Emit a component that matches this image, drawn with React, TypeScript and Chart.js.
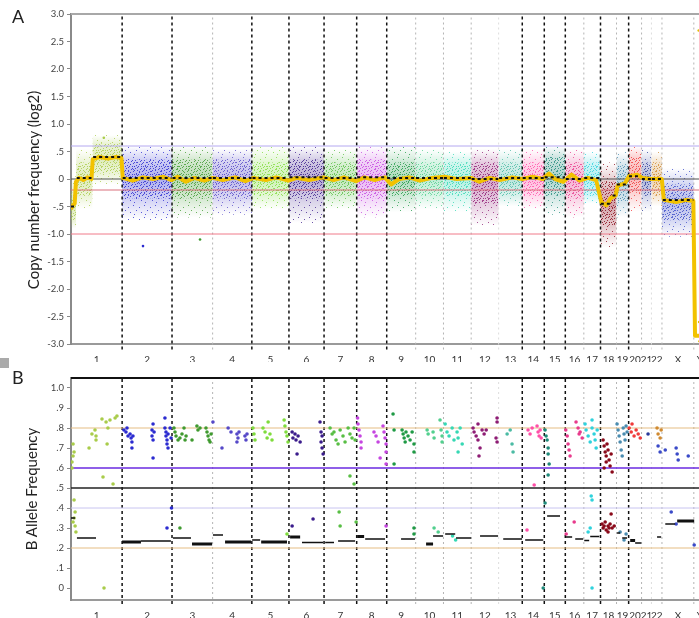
import React, { useEffect, useRef } from "react";
import { Chart, registerables } from "chart.js";
Chart.register(...registerables);

const FONT = "Lato, 'Open Sans', sans-serif";

const CHROMS = ["1","2","3","4","5","6","7","8","9","10","11","12","13","14","15","16","17","18","19","20","21","22","X","Y"];
const CHROM_LEN = [249.25,243.2,198.0,191.15,180.9,171.1,159.1,146.4,141.2,135.5,135.0,133.85,115.2,107.35,102.5,90.35,81.2,78.1,59.1,63.0,48.1,51.3,155.3,59.4];
// style of the boundary after each chromosome (1/2 ... X/Y)
const BOUNDARY_STYLE = ["dark","dark","grey","dark","dark","dark","dark","dark","grey","grey","grey","faint","dark","dark","dark","grey","dark","grey","dark","grey","faint","grey","grey"];
const CHROM_COLOR = ["#a9cc4a","#2b2bd0","#3f9a2f","#5548c8","#7fdc3c","#3b1c8c","#58be44","#c545e0","#1f9a45","#52cf8e","#36d8b4","#8e1c74","#4bbba4","#ff4fa8","#1f8a7a","#e83a8c","#2fd2dc","#8a0a1a","#4a8cb0","#f03a3a","#2a3a9a","#d08a30","#3a4ac8","#e0c000"];

const CN_TICKS = [3,2.5,2,1.5,1,0.5,0,-0.5,-1,-1.5,-2,-2.5,-3];
const BAF_TICKS = [1,0.9,0.8,0.7,0.6,0.5,0.4,0.3,0.2,0.1,0];

// [value, colour, width]
const CN_REF_LINES: [number, string, number][] = [[3,"#a8a8a8",2],[0.6,"#b4a8f0",1],[0,"#505050",1],[-0.2,"#d9707c",1],[-1.0,"#f07a8a",1]];
const BAF_REF_LINES: [number, string, number][] = [[1.05,"#111",2],[0.8,"#e6bd84",1.2],[0.6,"#6a2ae0",1.6],[0.5,"#222",1.6],[0.4,"#c8c4f0",1],[0.2,"#e6bd84",1.2]];

// copy-number clouds: [chrom, start Mb, end Mb, coreLo, coreHi, outerLo, outerHi]
const CN_CLOUDS: [number, number, number, number, number, number, number][] = [
  [0,0,25,-0.75,-0.25,-0.9,0.05],
  [0,25,105,-0.3,0.3,-0.55,0.55],
  [0,105,249,0.1,0.65,-0.1,0.8],
  [1,249,492,-0.35,0.35,-0.75,0.6],
  [2,492,690,-0.35,0.35,-0.7,0.6],
  [3,690,882,-0.35,0.35,-0.65,0.55],
  [4,882,1062,-0.3,0.3,-0.55,0.6],
  [5,1062,1234,-0.35,0.35,-0.8,0.6],
  [6,1234,1393,-0.3,0.3,-0.55,0.55],
  [7,1393,1539,-0.35,0.35,-0.7,0.6],
  [8,1539,1680,-0.3,0.3,-0.6,0.6],
  [9,1680,1816,-0.3,0.3,-0.55,0.55],
  [10,1816,1951,-0.3,0.3,-0.6,0.5],
  [11,1951,2085,-0.45,0.3,-0.85,0.55],
  [12,2085,2200,-0.3,0.3,-0.5,0.55],
  [13,2200,2307,-0.3,0.3,-0.55,0.55],
  [14,2307,2410,-0.3,0.4,-0.65,0.6],
  [15,2410,2500,-0.35,0.3,-0.7,0.55],
  [16,2500,2581,-0.3,0.3,-0.45,0.5],
  [17,2581,2659,-0.85,-0.05,-1.25,0.3],
  [18,2659,2718,-0.4,0.25,-0.7,0.5],
  [19,2718,2781,-0.25,0.4,-0.6,0.6],
  [20,2781,2830,-0.3,0.3,-0.6,0.55],
  [21,2830,2881,-0.3,0.3,-0.5,0.5],
  [22,2881,3036,-0.75,-0.1,-1.05,0.2],
];

// smoothed copy-number track [Mb, log2]
const CN_TRACK: [number, number][] = [
  [0,-0.55],[8,-0.48],[18,-0.45],[24,-0.05],[40,0.02],[60,-0.02],[80,0.03],[100,0.0],[106,0.36],[140,0.4],[180,0.37],[220,0.4],[246,0.38],
  [252,0.02],[300,-0.03],[350,0.03],[400,0.0],[450,0.04],[490,-0.02],[520,0.04],[560,-0.05],[600,0.02],[650,-0.03],[690,0.02],
  [740,-0.02],[800,0.03],[850,-0.04],[890,0.02],[950,-0.02],[1000,0.03],[1060,-0.03],[1100,0.02],[1160,-0.02],[1230,0.03],
  [1280,-0.02],[1330,0.03],[1390,-0.04],[1430,0.03],[1480,-0.02],[1530,0.03],[1560,-0.1],[1600,0.0],[1650,0.03],[1700,-0.03],
  [1760,0.02],[1820,0.04],[1880,0.0],[1950,0.02],[1990,-0.05],[2040,0.02],[2090,-0.02],[2150,0.03],[2200,0.0],[2250,0.04],
  [2300,0.0],[2330,0.1],[2360,0.0],[2400,-0.05],[2440,0.08],[2480,-0.03],[2520,0.02],[2560,-0.02],[2585,-0.42],[2610,-0.48],
  [2630,-0.35],[2655,-0.3],[2665,-0.12],[2700,-0.08],[2720,0.05],[2760,0.08],[2785,0.02],[2830,0.0],[2880,0.0],[2890,-0.38],
  [2950,-0.42],[3000,-0.38],[3034,-0.4],[3042,-2.85],[3095,-2.85],
];

// segment means [start, end, log2]
const CN_SEGMENTS: [number, number, number][] = [
  [0,20,-0.5],[28,100,0.02],[108,245,0.4],[252,490,0.02],[495,688,0.02],[692,880,0.02],[885,1060,0.02],[1065,1232,0.03],
  [1236,1390,0.02],[1395,1537,0.03],[1541,1678,0.02],[1682,1814,0.02],[1818,1949,0.02],[1953,2083,0.0],[2087,2198,0.02],
  [2202,2305,0.02],[2309,2408,0.03],[2412,2498,0.0],[2502,2579,0.02],[2583,2640,-0.45],[2640,2657,-0.3],[2661,2716,-0.1],
  [2720,2779,0.05],[2783,2828,0.0],[2832,2879,0.0],[2885,3034,-0.38],
];

// isolated probes [chrom, Mb, log2]
const CN_OUTLIERS: [number, number, number][] = [[1,351,-1.22],[2,629,-1.1],[0,160,0.75],[23,3060,2.7],[23,3062,-2.6],[23,3064,-2.95]];

// B allele frequency points per chromosome [Mb, BAF]
const BAF_POINTS: [number, number][][] = [
  [[5,.60],[5,.63],[10,.66],[15,.68],[10,.72],[88,.70],[102,.77],[117,.79],[122,.76],[122,.74],[151,.845],[171,.83],[180,.80],[190,.84],[215,.85],[224,.86],[176,.72],[156,.555],[205,.52],[15,.44],[20,.38],[15,.35],[20,.31],[24,.28],[10,.33],[161,0.0]],
  [[258,.79],[268,.78],[273,.80],[278,.76],[288,.77],[293,.75],[297,.73],[297,.70],[302,.76],[395,.79],[395,.76],[400,.82],[400,.74],[405,.78],[400,.65],[458,.85],[458,.80],[463,.78],[463,.76],[468,.74],[468,.72],[473,.70],[473,.77],[483,.80],[488,.75],[468,.30],[490,.40]],
  [[502,.80],[507,.78],[512,.76],[522,.74],[531,.75],[541,.77],[551,.80],[556,.74],[561,.76],[590,.74],[614,.81],[619,.79],[629,.80],[658,.80],[663,.78],[668,.76],[673,.74],[678,.73],[683,.77],[531,.30]],
  [[692,.83],[736,.70],[766,.80],[780,.78],[809,.77],[814,.75],[819,.78],[809,.73],[848,.76],[853,.74],[858,.77]],
  [[887,.80],[892,.77],[897,.74],[936,.80],[946,.78],[956,.75],[961,.83],[970,.77],[980,.74],[1039,.84],[1043,.81],[1048,.78],[1053,.76],[1058,.73],[1053,.27]],
  [[1078,.78],[1082,.75],[1092,.77],[1097,.74],[1107,.76],[1117,.73],[1102,.67],[1214,.83],[1219,.78],[1224,.76],[1219,.73],[1224,.70],[1229,.67],[1078,.31],[1180,.345]],
  [[1263,.80],[1273,.77],[1282,.78],[1292,.74],[1302,.72],[1312,.79],[1326,.76],[1336,.73],[1351,.80],[1360,.77],[1370,.75],[1380,.80],[1385,.74],[1360,.56],[1380,.52],[1307,.38],[1312,.31],[1390,.33]],
  [[1397,.85],[1399,.82],[1404,.79],[1409,.76],[1414,.73],[1414,.70],[1477,.78],[1487,.76],[1497,.73],[1507,.65],[1521,.81],[1526,.78],[1531,.75],[1536,.72],[1536,.68],[1536,.62],[1536,.31]],
  [[1570,.87],[1575,.79],[1575,.62],[1614,.79],[1619,.77],[1624,.75],[1629,.73],[1633,.78],[1643,.76],[1653,.74],[1663,.78],[1672,.72],[1672,.68],[1672,.30],[1672,.27]],
  [[1736,.79],[1741,.77],[1765,.78],[1770,.75],[1799,.84],[1804,.79],[1809,.76],[1809,.73],[1770,.30],[1790,.28]],
  [[1824,.82],[1833,.78],[1843,.76],[1858,.80],[1867,.74],[1882,.78],[1887,.75],[1897,.80],[1907,.72],[1887,.68],[1860,.26],[1875,.24]],
  [[1960,.80],[1965,.78],[1975,.76],[1984,.82],[1984,.74],[1994,.70],[2004,.79],[2014,.77],[1989,.66],[2024,.79],[2077,.85],[2077,.83],[2072,.75],[2077,.73]],
  [[2126,.77],[2141,.79],[2150,.72],[2155,.68]],
  [[2228,.79],[2238,.77],[2248,.80],[2272,.81],[2277,.78],[2282,.76],[2287,.79],[2292,.75],[2258,.515],[2223,.29]],
  [[2311,.79],[2316,.76],[2321,.74],[2326,.70],[2326,.67],[2331,.62],[2326,.565],[2311,.425],[2302,0.0]],
  [[2412,.79],[2419,.76],[2423,.72],[2428,.69],[2433,.66],[2462,.83],[2472,.80],[2477,.77],[2482,.78],[2492,.75],[2414,.27],[2453,.33]],
  [[2506,.82],[2511,.79],[2521,.76],[2531,.73],[2540,.80],[2550,.77],[2555,.74],[2560,.70],[2565,.79],[2540,.84],[2536,.46],[2540,.44],[2540,0.0],[2521,.28],[2531,.30]],
  [[2594,.74],[2599,.71],[2604,.68],[2609,.66],[2613,.72],[2618,.69],[2623,.64],[2628,.61],[2633,.67],[2609,.63],[2599,.60],[2638,.58],[2589,.32],[2594,.30],[2604,.33],[2609,.29],[2618,.31],[2628,.32],[2638,.30],[2648,.31],[2618,.28],[2633,.37],[2599,.31],[2623,.30]],
  [[2662,.82],[2667,.79],[2672,.76],[2677,.73],[2682,.69],[2692,.80],[2696,.77],[2701,.74],[2706,.81],[2711,.78],[2687,.66],[2677,.28],[2696,.24],[2706,.27]],
  [[2721,.80],[2731,.78],[2735,.82],[2745,.76],[2755,.79],[2765,.77],[2775,.75]],
  [[2813,.77]],
  [[2857,.80],[2862,.77],[2872,.75],[2877,.79]],
  [[2862,.71],[2872,.68],[2897,.69],[2926,.38],[2950,.70],[2955,.67],[2960,.64],[3009,.66],[2950,.32],[3038,.215]],
  [],
];

// BAF segments [start, end, BAF, thick]
const BAF_SEGMENTS: [number, number, number, number][] = [
  [0,20,.35,0],[29,122,.25,0],[249,341,.23,1],[341,487,.235,0],[497,585,.25,0],[590,688,.22,1],
  [692,741,.265,0],[751,878,.23,1],[883,922,.24,0],[927,1053,.23,1],[1068,1117,.255,1],[1126,1229,.228,0],
  [1239,1282,.228,0],[1302,1385,.235,0],[1395,1429,.258,1],[1434,1531,.245,0],[1609,1677,.245,0],
  [1731,1765,.22,1],[1765,1814,.26,0],[1824,1873,.27,0],[1877,1951,.25,0],[1994,2082,.26,0],
  [2107,2199,.245,0],[2214,2302,.24,0],[2321,2384,.36,0],[2409,2443,.255,0],[2458,2497,.245,0],
  [2502,2526,.237,0],[2531,2575,.257,0],[2662,2677,.275,0],[2687,2711,.25,0],[2726,2750,.237,1],
  [2750,2780,.225,0],[2857,2877,.255,0],[2897,2945,.32,0],[2955,3038,.335,1],
];

const STARTS: number[] = CHROM_LEN.map((_, i) => CHROM_LEN.slice(0, i).reduce((a, b) => a + b, 0));
const GENOME_END = STARTS[STARTS.length - 1] + CHROM_LEN[CHROM_LEN.length - 1];
const MIDS = STARTS.map((s, i) => s + CHROM_LEN[i] / 2);

// texture tiles (style only)
const CORE_DOTS = [[0,0],[5,1],[2,2],[7,3],[4,4],[1,5],[8,6],[3,6],[6,0],[8,2],[2,7],[6,6]];
const OUTER_DOTS = [[1,1],[7,3],[4,6],[9,8],[2,10]];

function rgba(hex: string, a: number) {
  const n = parseInt(hex.slice(1), 16);
  return `rgba(${(n >> 16) & 255},${(n >> 8) & 255},${n & 255},${a})`;
}

function speckle(color: string, dots: number[][], w: number, h: number, a: number): CanvasPattern | string {
  const c = document.createElement("canvas");
  c.width = w; c.height = h;
  const g = c.getContext("2d");
  if (!g) return "transparent";
  g.fillStyle = rgba(color, a);
  dots.forEach(([x, y]) => g.fillRect(x, y, 1, 1));
  return g.createPattern(c, "repeat") || "transparent";
}

function cloudGradient(col: string, lo: number, hi: number, cLo: number, cHi: number) {
  return (ctx: any) => {
    const chart = ctx.chart;
    const ys = chart.scales && chart.scales.y;
    if (!ys || !chart.chartArea) return "transparent";
    const y1 = ys.getPixelForValue(hi);
    const y2 = ys.getPixelForValue(lo);
    const g = chart.ctx.createLinearGradient(0, y1, 0, y2);
    const f = (v: number) => Math.min(1, Math.max(0, (hi - v) / (hi - lo)));
    g.addColorStop(0, rgba(col, 0));
    g.addColorStop(f(cHi), rgba(col, 0.22));
    g.addColorStop(f((cHi + cLo) / 2), rgba(col, 0.38));
    g.addColorStop(f(cLo), rgba(col, 0.22));
    g.addColorStop(1, rgba(col, 0));
    return g;
  };
}

const fmt = (v: number) => {
  if (Math.abs(v) < 1e-9) return "0";
  const s = Number.isInteger(v) ? v.toFixed(1) : String(+v.toFixed(2));
  return s.replace(/^(-?)0\./, "$1.");
};

function boundaryDatasets(yLo: number, yHi: number) {
  const styles: Record<string, [string, number, number[]]> = {
    dark: ["#111", 1.5, [3, 3]],
    grey: ["#b4b4b4", 1, [2, 3]],
    faint: ["#dddddd", 1, [2, 3]],
  };
  return Object.keys(styles).map((k) => {
    const data: any[] = [];
    BOUNDARY_STYLE.forEach((s, i) => {
      if (s !== k) return;
      const x = STARTS[i + 1];
      data.push({ x, y: yLo }, { x, y: yHi }, { x, y: null });
    });
    return {
      data, borderColor: styles[k][0], borderWidth: styles[k][1], borderDash: styles[k][2],
      pointRadius: 0, fill: false, spanGaps: false, order: 8, clip: false,
    };
  });
}

function refLineDatasets(lines: [number, string, number][]) {
  return lines.map(([y, c, w]) => ({
    data: [{ x: 0, y }, { x: GENOME_END, y }], borderColor: c, borderWidth: w,
    pointRadius: 0, fill: false, order: 6, clip: false,
  }));
}

function axes(yMin: number, yMax: number, yTicks: number[], xHeight: number) {
  return {
    x: {
      type: "linear", min: 0, max: GENOME_END,
      afterBuildTicks: (s: any) => { s.ticks = MIDS.map((v) => ({ value: v })); },
      ticks: {
        autoSkip: false, maxRotation: 0, minRotation: 0, padding: 2,
        font: { family: FONT, size: 10 }, color: "#333",
        callback: (_v: any, i: number) => CHROMS[i],
      },
      grid: { display: false },
      border: { color: "#9a9a9a", width: 2 },
      afterFit: (s: any) => { s.height = xHeight; s.paddingLeft = 0; s.paddingRight = 0; },
    },
    y: {
      type: "linear", min: yMin, max: yMax,
      afterBuildTicks: (s: any) => { s.ticks = yTicks.map((v) => ({ value: v })); },
      ticks: { font: { family: FONT, size: 9.5 }, color: "#444", padding: 3, callback: (v: any) => fmt(Number(v)) },
      grid: { drawOnChartArea: false, drawTicks: true, tickLength: 4, color: "#888" },
      border: { color: "#8a8a8a", width: 2 },
      afterFit: (s: any) => { s.width = 71; s.paddingTop = 0; s.paddingBottom = 0; },
    },
  };
}

function configA(): any {
  const datasets: any[] = [];
  CN_CLOUDS.forEach(([ch, s, e, cl, chh, ol, oh]) => {
    const col = CHROM_COLOR[ch];
    datasets.push({
      data: [{ x: s, y: oh }, { x: e, y: oh }], fill: { target: { value: ol } },
      backgroundColor: cloudGradient(col, ol, oh, cl, chh), borderColor: "transparent", borderWidth: 0,
      pointRadius: 0, order: 22,
    });
    datasets.push({
      data: [{ x: s, y: oh }, { x: e, y: oh }], fill: { target: { value: ol } },
      backgroundColor: speckle(col, OUTER_DOTS, 11, 12, 0.75), borderColor: "transparent", borderWidth: 0,
      pointRadius: 0, order: 21,
    });
    datasets.push({
      data: [{ x: s, y: chh }, { x: e, y: chh }], fill: { target: { value: cl } },
      backgroundColor: speckle(col, CORE_DOTS, 9, 8, 0.8), borderColor: "transparent", borderWidth: 0,
      pointRadius: 0, order: 20,
    });
  });
  datasets.push(...refLineDatasets(CN_REF_LINES));
  datasets.push(...boundaryDatasets(-3.1, 3));
  datasets.push({
    data: CN_OUTLIERS.map(([, x, y]) => ({ x, y })), showLine: false, pointRadius: 1.3, pointBorderWidth: 0,
    pointBackgroundColor: CN_OUTLIERS.map(([c]) => CHROM_COLOR[c]), order: 5,
  });
  datasets.push({
    data: CN_TRACK.map(([x, y]) => ({ x, y })), borderColor: "#f2c200", borderWidth: 4,
    pointRadius: 0, fill: false, order: 2, borderJoinStyle: "round",
  });
  const seg: any[] = [];
  CN_SEGMENTS.forEach(([s, e, v]) => seg.push({ x: s, y: v }, { x: e, y: v }, { x: e, y: null }));
  datasets.push({ data: seg, borderColor: "#111", borderWidth: 2, borderDash: [3, 3], pointRadius: 0, fill: false, spanGaps: false, order: 1 });
  return {
    type: "line",
    data: { datasets },
    options: {
      responsive: false, animation: false, devicePixelRatio: 1,
      layout: { padding: { left: 0, top: 14, right: 6, bottom: 0 } },
      plugins: { legend: { display: false }, tooltip: { enabled: false } },
      scales: axes(-3, 3, CN_TICKS, 18),
    },
  };
}

function configB(): any {
  const datasets: any[] = [];
  datasets.push(...refLineDatasets(BAF_REF_LINES));
  datasets.push(...boundaryDatasets(-0.08, 1.05));
  BAF_POINTS.forEach((pts, ch) => {
    if (!pts.length) return;
    datasets.push({
      data: pts.map(([x, y]) => ({ x, y })), showLine: false, pointRadius: 1.8, pointBorderWidth: 0,
      pointBackgroundColor: CHROM_COLOR[ch], order: 3,
    });
  });
  [0, 1].forEach((thick) => {
    const d: any[] = [];
    BAF_SEGMENTS.filter((r) => r[3] === thick).forEach(([s, e, v]) => d.push({ x: s, y: v }, { x: e, y: v }, { x: e, y: null }));
    datasets.push({ data: d, borderColor: "#111", borderWidth: thick ? 3 : 1.5, pointRadius: 0, fill: false, spanGaps: false, order: 1 });
  });
  return {
    type: "line",
    data: { datasets },
    options: {
      responsive: false, animation: false, devicePixelRatio: 1,
      layout: { padding: { left: 0, top: 16, right: 6, bottom: 0 } },
      plugins: { legend: { display: false }, tooltip: { enabled: false } },
      scales: axes(-0.06, 1.05, BAF_TICKS, 18),
    },
  };
}

export default function App() {
  const refA = useRef<HTMLCanvasElement>(null);
  const refB = useRef<HTMLCanvasElement>(null);
  useEffect(() => {
    const charts: Chart[] = [];
    if (refA.current) charts.push(new Chart(refA.current, configA()));
    if (refB.current) charts.push(new Chart(refB.current, configB()));
    return () => charts.forEach((c) => c.destroy());
  }, []);
  const text: React.CSSProperties = { position: "absolute", fontFamily: FONT, color: "#222", whiteSpace: "nowrap", lineHeight: 1 };
  return (
    <div style={{ position: "absolute", left: 0, top: 0, width: 699, height: 618, overflow: "hidden", background: "#fff" }}>
      <canvas ref={refA} width={712} height={362} style={{ position: "absolute", left: 0, top: 0 }} />
      <canvas ref={refB} width={712} height={256} style={{ position: "absolute", left: 0, top: 362 }} />
      <div style={{ ...text, left: 12, top: 7, fontSize: 18 }}>A</div>
      <div style={{ ...text, left: 12, top: 368, fontSize: 18 }}>B</div>
      <div style={{ position: "absolute", left: 0, top: 358, width: 9, height: 10, background: "#aaa" }} />
      <div style={{ ...text, left: 33, top: 190, fontSize: 15, transform: "translate(-50%,-50%) rotate(-90deg)" }}>Copy number  frequency (log2)</div>
      <div style={{ ...text, left: 31, top: 489, fontSize: 15, transform: "translate(-50%,-50%) rotate(-90deg)" }}>B Allele Frequency</div>
    </div>
  );
}
